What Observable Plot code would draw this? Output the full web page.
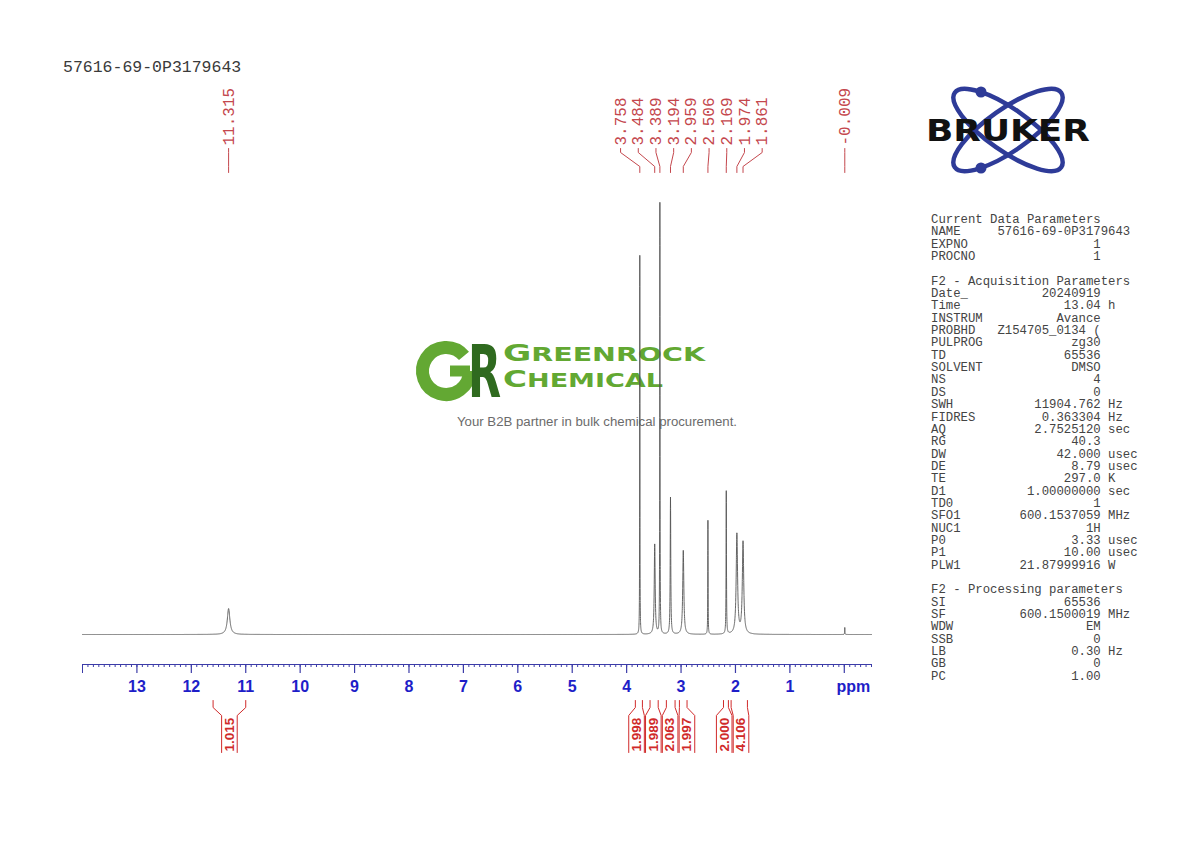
<!DOCTYPE html>
<html><head><meta charset="utf-8">
<script src="https://cdn.jsdelivr.net/npm/d3@7"></script>
<script src="https://cdn.jsdelivr.net/npm/@observablehq/plot@0.6"></script>
<style>
html,body{margin:0;padding:0;background:#fff;}
#wrap{position:relative;width:1190px;height:842px;overflow:hidden;background:#fff;}
#wm,#logo{position:absolute;left:0;top:0;}
#chart{position:absolute;left:0;top:0;}
#title{position:absolute;left:63px;top:59px;font:16.5px/18px "Liberation Mono",monospace;color:#3a3a3a;}
#params{position:absolute;left:931px;top:214px;font:12.3px/12.35px "Liberation Mono",monospace;color:#444;white-space:pre;margin:0;}
</style></head><body>
<div id="wrap">
<svg id="wm" width="1190" height="842">
  <path d="M464,355.9 A23.5,23.5 0 1 0 469.5,371" fill="none" stroke="#63a833" stroke-width="13"/>
  <line x1="470" y1="371" x2="450" y2="371" stroke="#63a833" stroke-width="11"/>
  <g transform="translate(468,397) scale(1,1.68)"><text x="0" y="0" font-family="DejaVu Sans" font-weight="bold" font-size="43" fill="#2f6a1f">R</text></g>
  <text x="503" y="360.5" font-family="DejaVu Sans" font-weight="bold" fill="#62a832" textLength="202" lengthAdjust="spacingAndGlyphs"><tspan font-size="23">G</tspan><tspan font-size="19">REENROCK</tspan></text>
  <text x="503" y="387" font-family="DejaVu Sans" font-weight="bold" fill="#62a832" textLength="160" lengthAdjust="spacingAndGlyphs"><tspan font-size="23">C</tspan><tspan font-size="19">HEMICAL</tspan></text>
  <text x="457" y="426" font-family="Liberation Sans" font-size="12.5" fill="#6b6b6b" textLength="280" lengthAdjust="spacingAndGlyphs">Your B2B partner in bulk chemical procurement.</text>
</svg>
<div id="chart"></div>
<div id="title">57616-69-0P3179643</div>
<svg id="logo" width="1190" height="842">
  <ellipse cx="1008" cy="130" rx="65" ry="21" transform="rotate(35 1008 130)" fill="none" stroke="#2e3b98" stroke-width="4.5"/>
  <ellipse cx="1008" cy="130" rx="65" ry="21" transform="rotate(-35 1008 130)" fill="none" stroke="#2e3b98" stroke-width="4.5"/>
  <circle cx="981" cy="92" r="5.5" fill="#2e3b98"/>
  <circle cx="981" cy="168" r="5.5" fill="#2e3b98"/>
  <text x="926" y="141" font-family="DejaVu Sans" font-weight="bold" font-size="31" fill="#111" textLength="164" lengthAdjust="spacingAndGlyphs">BRUKER</text>
</svg>
<pre id="params"></pre>
</div>
<script>
// ---------- data ----------
const peakPpm       = [11.315, 3.758, 3.484, 3.389, 3.194, 2.959, 2.506, 2.169, 1.974, 1.861, -0.009];
const peakHeight    = [26, 379, 90, 431, 137, 84, 114, 143, 100, 92, 7];
const peakHalfWidth = [0.028, 0.0025, 0.010, 0.003, 0.006, 0.012, 0.003, 0.004, 0.015, 0.015, 0.003];

const integralFrom   = [11.60, 3.84, 3.57, 3.27, 3.03, 2.22, 2.08];
const integralTo     = [11.00, 3.71, 3.42, 3.11, 2.89, 2.13, 1.78];
const integralValues = ["1.015", "1.998", "1.989", "2.063", "1.997", "2.000", "4.106"];

const tickValues = [13, 12, 11, 10, 9, 8, 7, 6, 5, 4, 3, 2, 1, 0];
const tickLabels = ["13", "12", "11", "10", "9", "8", "7", "6", "5", "4", "3", "2", "1", "ppm"];

const titleText = "57616-69-0P3179643";

const paramRows = [
  ["Current Data Parameters"],
  ["NAME", "57616-69-0P3179643"],
  ["EXPNO", "1"],
  ["PROCNO", "1"],
  [],
  ["F2 - Acquisition Parameters"],
  ["Date_", "20240919"],
  ["Time", "13.04", "h"],
  ["INSTRUM", "Avance"],
  ["PROBHD", "Z154705_0134 ("],
  ["PULPROG", "zg30"],
  ["TD", "65536"],
  ["SOLVENT", "DMSO"],
  ["NS", "4"],
  ["DS", "0"],
  ["SWH", "11904.762", "Hz"],
  ["FIDRES", "0.363304", "Hz"],
  ["AQ", "2.7525120", "sec"],
  ["RG", "40.3"],
  ["DW", "42.000", "usec"],
  ["DE", "8.79", "usec"],
  ["TE", "297.0", "K"],
  ["D1", "1.00000000", "sec"],
  ["TD0", "1"],
  ["SFO1", "600.1537059", "MHz"],
  ["NUC1", "1H"],
  ["P0", "3.33", "usec"],
  ["P1", "10.00", "usec"],
  ["PLW1", "21.87999916", "W"],
  [],
  ["F2 - Processing parameters"],
  ["SI", "65536"],
  ["SF", "600.1500019", "MHz"],
  ["WDW", "EM"],
  ["SSB", "0"],
  ["LB", "0.30", "Hz"],
  ["GB", "0"],
  ["PC", "1.00"]
];

// ---------- parameter table ----------
function fmtRow(r) {
  if (r.length === 0) return "";
  if (r.length === 1) return r[0];
  const [l, v, u] = r;
  const start = Math.max(9, 23 - v.length);
  return l.padEnd(start, " ") + v + (u ? " " + u : "");
}
document.getElementById("params").textContent = paramRows.map(fmtRow).join("\n");
document.getElementById("title").textContent = titleText;

// ---------- geometry helpers ----------
const X0 = 14, X1 = -0.5, left = 82, right = 871;
const pxPerPpm = (right - left) / (X0 - X1);
const BASE = 634;                 // pixel row of y = 0
const u = p => BASE - p;          // pixel row -> y units (1 unit = 1 px)

// spread labels: groups overlapping labels and spaces them evenly round the group mean
function spread(centers, minPx) {
  const s = minPx / pxPerPpm;
  const order = centers.map((c, i) => i).sort((a, b) => centers[b] - centers[a]);
  let groups = order.map(i => ({items: [i], mean: centers[i]}));
  let merged = true;
  while (merged) {
    merged = false;
    for (let k = 0; k < groups.length - 1; k++) {
      const g = groups[k], h = groups[k + 1];
      const gRight = g.mean - (g.items.length - 1) / 2 * s;
      const hLeft = h.mean + (h.items.length - 1) / 2 * s;
      if (gRight - hLeft < s) {
        const items = g.items.concat(h.items);
        groups.splice(k, 2, {items, mean: d3.mean(items, i => centers[i])});
        merged = true; break;
      }
    }
  }
  const pos = new Array(centers.length);
  for (const g of groups) {
    const n = g.items.length;
    g.items.forEach((i, j) => pos[i] = g.mean + ((n - 1) / 2 - j) * s);
  }
  return pos;
}

// ---------- spectrum from the peak list ----------
let xs = d3.range(X1, X0 + 1e-9, 0.002);
peakPpm.forEach((p, i) => {
  const g = peakHalfWidth[i];
  for (let k = -30; k <= 30; k++) xs.push(p + k * g * 0.3);
});
xs = xs.filter(x => x >= X1 && x <= X0).sort((a, b) => a - b);
const spectrum = xs.map(x => {
  let y = 0;
  for (let i = 0; i < peakPpm.length; i++) {
    const g = peakHalfWidth[i], d = x - peakPpm[i];
    y += peakHeight[i] * g * g / (d * d + g * g);
  }
  return {x, y};
});

// ---------- peak labels ----------
const peakLabelPos = spread(peakPpm, 17.7);
const peakLabels = peakPpm.map((p, i) => ({x: peakLabelPos[i], y: u(145), text: p.toFixed(3)}));
const peakConnectors = [];
peakPpm.forEach((p, i) => {
  const lx = peakLabelPos[i];
  [[lx, 148], [lx, 152], [p, 166], [p, 172]].forEach(([x, py]) => peakConnectors.push({id: i, x, y: u(py)}));
});

// ---------- integrals ----------
const integralMid = integralFrom.map((f, i) => (f + integralTo[i]) / 2);
const integralPos = spread(integralMid, 16.8);
const hw = 7.8 / pxPerPpm;
const integralLines = [];
integralFrom.forEach((f, i) => {
  const t = integralTo[i], c = integralPos[i];
  [[f, 700], [f, 707], [c + hw, 715], [c + hw, 752]].forEach(([x, py]) => integralLines.push({id: "l" + i, x, y: u(py)}));
  [[t, 700], [t, 707], [c - hw, 715], [c - hw, 752]].forEach(([x, py]) => integralLines.push({id: "r" + i, x, y: u(py)}));
});
const integralText = integralValues.map((v, i) => ({x: integralPos[i], y: u(751), text: v}));

// ---------- axis ----------
const minorTicks = d3.range(0, 146).map(k => X1 + k * 0.1).filter(v => v <= X0 + 1e-9);
const axisColor = "#3c3ca8";
const numTicks = tickValues.map((v, i) => ({x: v, text: tickLabels[i]})).filter(d => d.text !== "ppm");
const unitTick = tickValues.map((v, i) => ({x: v, text: tickLabels[i]})).filter(d => d.text === "ppm");

const redLabel = "#c4474d";
const redInt = "#d02a2a";

const plot = Plot.plot({
  width: 1190, height: 842,
  marginLeft: left, marginRight: 1190 - right, marginTop: BASE - 431, marginBottom: 842 - BASE,
  x: {domain: [X0, X1], axis: null},
  y: {domain: [0, 431], axis: null},
  style: {background: "transparent", overflow: "visible"},
  marks: [
    Plot.line(spectrum, {x: "x", y: "y", stroke: "#555", strokeWidth: 0.9}),
    // axis
    Plot.ruleY([{y: u(664)}], {y: "y", x1: X0, x2: X1, stroke: axisColor, strokeWidth: 1.2}),
    Plot.ruleX(minorTicks, {x: d => d, y1: u(664), y2: d => (Math.abs(d - X0) < 1e-6) ? u(673) : u(667), stroke: axisColor, strokeWidth: 1}),
    Plot.ruleX(tickValues, {x: d => d, y1: u(664), y2: u(673), stroke: axisColor, strokeWidth: 1.2}),
    Plot.text(numTicks, {x: "x", y: d => u(686), text: "text", fill: "#1e1ec8", fontFamily: "Liberation Sans", fontWeight: "bold", fontSize: 16}),
    Plot.text(unitTick, {x: "x", y: d => u(686), text: "text", dx: 9, fill: "#1e1ec8", fontFamily: "Liberation Sans", fontWeight: "bold", fontSize: 16}),
    // peak labels
    Plot.line(peakConnectors, {x: "x", y: "y", z: "id", stroke: redLabel, strokeWidth: 1, curve: "linear"}),
    Plot.text(peakLabels, {x: "x", y: "y", text: "text", rotate: -90, textAnchor: "start", fill: redLabel, fontFamily: "Liberation Mono", fontSize: 16}),
    // integrals
    Plot.line(integralLines, {x: "x", y: "y", z: "id", stroke: redInt, strokeWidth: 1}),
    Plot.text(integralText, {x: "x", y: "y", text: "text", rotate: -90, textAnchor: "start", fill: redInt, fontFamily: "Liberation Sans", fontWeight: "bold", fontSize: 13.5})
  ]
});
document.getElementById("chart").appendChild(plot);
</script>
</body></html>
